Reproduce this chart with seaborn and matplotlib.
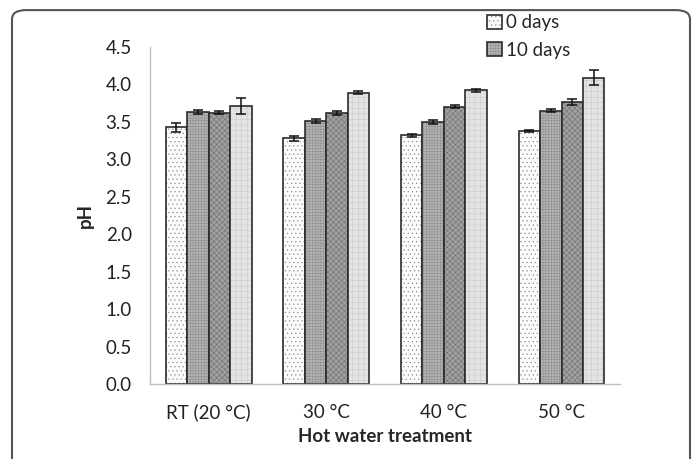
import numpy as np
import pandas as pd
import seaborn as sns
import matplotlib.pyplot as plt
from matplotlib.patches import FancyBboxPatch

# data
treatments = ['RT (20 °C)', '30 °C', '40 °C', '50 °C']
days = ['0 days', '10 days', '20 days', '30 days']
ph_0 = [3.43, 3.28, 3.32, 3.38]
ph_10 = [3.63, 3.51, 3.50, 3.65]
ph_20 = [3.62, 3.62, 3.70, 3.76]
ph_30 = [3.71, 3.89, 3.92, 4.09]
err_0 = [0.06, 0.03, 0.02, 0.01]
err_10 = [0.03, 0.03, 0.03, 0.02]
err_20 = [0.02, 0.03, 0.02, 0.04]
err_30 = [0.11, 0.02, 0.02, 0.10]

vals = [ph_0, ph_10, ph_20, ph_30]
errs = [err_0, err_10, err_20, err_30]
df = pd.DataFrame({
    'treatment': np.tile(treatments, len(days)),
    'day': np.repeat(days, len(treatments)),
    'ph': np.concatenate(vals),
    'err': np.concatenate(errs),
})

sns.set_style('white')
plt.rcParams['font.family'] = ['Lato', 'DejaVu Sans']
plt.rcParams['hatch.linewidth'] = 0.35

fig = plt.figure(figsize=(6.97, 4.59), dpi=100)
ax = fig.add_axes([0.215, 0.163, 0.675, 0.735])

faces = ['#fbfbfb', '#b4b4b4', '#a0a0a0', '#e4e4e4']
hatches = ['....', '++++++', 'xxxxxx', '+++']
hatch_cols = ['#888888', '#8a8a8a', '#6a6a6a', '#c8c8c8']
sns.barplot(data=df, x='treatment', y='ph', hue='day', hue_order=days,
            palette=faces, edgecolor='#2b2b2b', linewidth=1.2,
            width=0.73, gap=0, errorbar=None, legend=False, ax=ax)

# patches come out hue-major: all of day 0, then day 10, ...
for i, p in enumerate(ax.patches):
    d = i // len(treatments)
    t = i % len(treatments)
    p.set_hatch(hatches[d])
    p._hatch_color = plt.matplotlib.colors.to_rgba(hatch_cols[d])
    x = p.get_x() + p.get_width() / 2
    ax.errorbar(x, vals[d][t], yerr=errs[d][t], color='#111111',
                elinewidth=1.1, capsize=3.5, capthick=1.1, fmt='none')

ax.set_ylim(0, 4.5)
ax.set_yticks(np.arange(0, 4.51, 0.5))
ax.set_yticklabels([f'{v:.1f}' for v in np.arange(0, 4.51, 0.5)])
ax.set_xlim(-0.5, 3.5)
ax.tick_params(axis='both', labelsize=13.5, colors='#222222', length=0)
ax.tick_params(axis='y', pad=13)
ax.tick_params(axis='x', pad=14)
for s in ['top', 'right']:
    ax.spines[s].set_visible(False)
for s in ['left', 'bottom']:
    ax.spines[s].set_color('#bfbfbf')
    ax.spines[s].set_linewidth(1.0)

ax.set_ylabel('pH', fontsize=13.5, fontweight='bold', labelpad=8)
ax.set_xlabel('Hot water treatment', fontsize=13.5, fontweight='bold', labelpad=5)

# legend: only the first two entries are visible in the original
handles = [ax.patches[0], ax.patches[len(treatments)]]
fig.legend(handles, days[:2], loc='upper left', bbox_to_anchor=(0.688, 0.985),
           frameon=False, fontsize=13.5, handlelength=0.8, handleheight=0.8,
           handletextpad=0.2, labelspacing=0.55, borderaxespad=0)

# rounded outer frame, bottom edge runs off the figure
frame = FancyBboxPatch((12 / 697, -0.1), (690 - 12) / 697, 1.078,
                       boxstyle='round,pad=0,rounding_size=0.02',
                       transform=fig.transFigure, fill=False,
                       edgecolor='#555555', linewidth=1.5)
fig.patches.append(frame)

fig.savefig('out.png', dpi=100)
